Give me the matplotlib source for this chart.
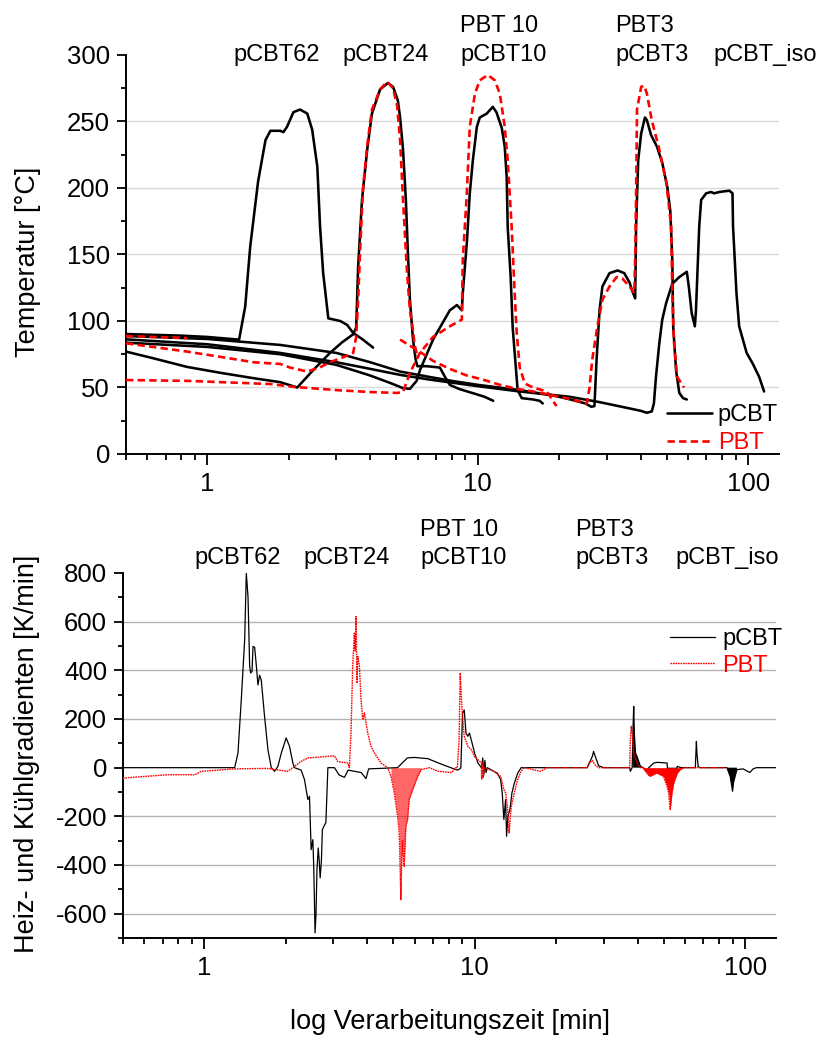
import numpy as np
import matplotlib
matplotlib.use("Agg")
import matplotlib.pyplot as plt
from matplotlib.ticker import LogLocator, MultipleLocator, NullFormatter

plt.rcParams['font.family'] = ['Liberation Sans', 'DejaVu Sans']
plt.rcParams['axes.unicode_minus'] = False

# ---------------- temperature profiles (time in min, temperature in degC) ----------------
t_pcbt62 = [0.5, 0.8, 1.0, 1.31, 1.38, 1.44, 1.54, 1.64, 1.71, 1.86, 1.91, 1.97, 2.08, 2.20,
            2.34, 2.44, 2.55, 2.61, 2.68, 2.80, 3.10, 3.29, 3.46, 3.76, 4.10]
T_pcbt62 = [90.2, 89.0, 88.0, 86.0, 111, 156, 205, 236, 243, 243, 242, 246, 257, 259,
            256, 244, 216, 171, 136, 102, 100, 97, 91, 86, 80]

t_pcbt24 = [0.5, 0.63, 0.84, 1.12, 1.48, 1.86, 2.15, 2.46, 2.84, 3.15, 3.46, 3.55, 3.61, 3.73,
            3.90, 4.06, 4.35, 4.65, 4.86, 5.06, 5.16, 5.29, 5.42, 5.51, 5.61, 5.76, 5.89, 5.98,
            6.48, 7.24, 7.56, 7.88, 8.5, 9.5, 10.6, 11.4]
T_pcbt24 = [77, 72, 65.5, 61, 57, 54, 50, 63, 76, 84, 90, 95, 141, 191,
            229, 256, 274, 279, 276, 266, 253, 229, 191, 153, 116, 86, 71, 66,
            66, 65, 58, 52, 49, 46, 43, 40]

t_pcbt10 = [0.5, 1.0, 1.86, 3.0, 4.0, 4.8, 5.29, 5.61, 5.94, 6.11, 6.83, 7.88, 8.37, 8.73,
            8.80, 9.11, 9.34, 9.59, 9.92, 10.17, 10.8, 11.36, 11.72, 12.27, 12.58, 12.79,
            12.90, 13.23, 13.46, 14.04, 14.54, 16.02, 16.93, 17.39]
T_pcbt10 = [83.7, 80.5, 75, 67, 59, 53, 49.5, 49, 55, 63, 86, 108, 112, 108,
            121, 159, 196, 221, 246, 253, 256, 261, 257, 245, 231, 208,
            171, 133, 95, 48, 42, 41, 40, 38]

t_pcbt3 = [0.5, 1.0, 1.86, 3.0, 4.0, 5.16, 6.6, 8.0, 10.0, 14.3, 19.0, 22.0, 25.0, 26.3,
           27.0, 27.5, 28.2, 28.9, 30.7, 32.9, 34.8, 36.4, 37.2, 38.2, 38.5, 39.2, 40.2,
           41.5, 42.2, 43.7, 46.0, 48.1, 50.2, 51.5, 52.4, 52.8, 54.1, 55.6, 57.4, 59.3]
T_pcbt3 = [88.7, 86.5, 82, 76, 69, 62, 58, 55, 52, 48, 44, 41, 38, 35.5,
           36, 71, 108, 126, 136, 138, 136, 129, 123, 117, 171, 221, 241,
           253, 251, 240, 231, 219, 201, 183, 146, 96, 63, 46, 42, 41]

t_pcbt_iso = [0.5, 1.0, 1.86, 3.0, 4.0, 5.16, 6.6, 10.0, 14.3, 21.9, 28.2, 35.0, 40.0, 42.2,
              44.0, 44.8, 45.6, 46.9, 48.1, 49.8, 52.4, 55.6, 59.3, 60.3, 61.8, 63.5, 64.1,
              65.9, 67.0, 69.9, 72.9, 74.8, 78.2, 85.2, 87.5, 87.9, 90.5, 92.6, 98.7, 103.9,
              109.8, 114.5]
T_pcbt_iso = [86.2, 82.5, 76, 69, 64, 59.5, 56, 51, 47, 43, 39, 35, 32.5, 31,
              32, 38, 58, 83, 101, 114, 128, 133, 137, 126, 106, 96, 108,
              171, 191, 196, 197, 196, 197, 198, 196, 171, 121, 96, 76, 68,
              58, 47]

t_pbt_start = [0.5, 0.84]
T_pbt_start = [88.7, 87.2]

t_pbt24 = [0.5, 0.63, 0.84, 1.12, 1.48, 1.86, 2.02, 2.34, 2.6, 2.84, 3.2, 3.46, 3.55, 3.61,
           3.67, 3.76, 3.90, 4.06, 4.35, 4.62, 4.86, 5.03, 5.16, 5.29, 5.47, 5.61, 5.76,
           5.84, 6.0]
T_pbt24 = [83.2, 80.5, 77, 73, 69, 67.7, 65, 62, 65, 69, 73, 76, 88, 116,
           153, 199, 232, 259, 274, 280, 275, 262, 236, 191, 138, 108, 93,
           82, 72]

t_pbt10 = [0.5, 0.84, 1.71, 2.1, 3.02, 3.99, 5.03, 5.29, 5.61, 6.11, 6.83, 7.88, 8.73, 8.80,
           9.11, 9.34, 9.76, 10.17, 10.89, 11.55, 12.06, 12.58, 12.90, 13.34, 13.69, 13.93,
           14.29, 14.93, 16.02, 18.0, 19.55]
T_pbt10 = [55.6, 55, 52.6, 50.4, 48, 46.6, 45.9, 46.6, 61, 76, 88, 96, 101, 146,
           196, 246, 271, 281, 285, 281, 271, 246, 221, 171, 121, 91,
           65, 53, 50, 47, 36]

t_pbt3 = [5.16, 5.76, 6.3, 6.83, 7.88, 9.11, 10.42, 12.06, 13.93, 16.02, 18.5, 21.3, 23.8,
          25.3, 25.9, 26.5, 27.7, 28.9, 30.7, 32.6, 34.2, 36.4, 37.9, 38.2, 38.5, 38.8,
          40.2, 41.2, 42.2, 44.0, 46.9, 49.8, 51.9, 52.4, 53.2, 54.6, 57.9]
T_pbt3 = [86, 80, 75, 70, 64, 59, 56, 52, 49, 47, 44.5, 42, 39.5,
          38, 50, 71, 96, 116, 126, 133, 132, 126, 121, 146, 196, 259,
          276, 277, 271, 251, 229, 204, 171, 121, 83, 58, 50]

# ---------------- heating / cooling gradients (K/min) ----------------
g_pcbt62_t = [0.5, 1.294, 1.331, 1.369, 1.409, 1.429, 1.450, 1.470, 1.482, 1.50, 1.513, 1.534,
              1.556, 1.578, 1.600, 1.623, 1.669, 1.718, 1.767, 1.818, 1.870, 1.925, 2.006,
              2.064, 2.124, 2.154, 2.279, 2.345, 2.413, 2.447, 2.482, 2.518, 2.538, 2.566,
              2.587, 2.608, 2.636, 2.657, 2.680, 2.709, 2.731, 2.767, 2.814, 2.862, 3.027,
              3.15, 3.295, 3.4, 3.6, 3.8, 3.96, 4.05]
g_pcbt62_v = [0, 0, 60, 279, 525, 799, 700, 420, 389, 395, 498, 495,
              420, 340, 380, 360, 211, 74, 0, -15, 5, 60, 122,
              88, 19, 0, -10, -49, -131, -118, -337, -296, -410, -679,
              -600, -420, -330, -378, -453, -380, -255, -241, -225, 0, 0,
              -30, -40, -10, -15, -20, -45, -5]

g_pcbt10_t = [5.18, 5.63, 5.97, 6.70, 7.70, 8.15, 8.62, 8.80, 8.88, 9.01, 9.14, 9.28, 9.42,
              9.56, 9.70, 9.84, 9.98, 10.27, 10.58, 10.7, 10.8, 10.9, 11.0, 11.12, 11.76,
              12.10, 12.46, 12.63, 12.81, 13.00, 13.11, 13.26, 13.49, 13.72, 14.01, 14.42,
              14.84]
g_pcbt10_v = [0, 40, 42, 37, 10, 0, -10, -5, 0, 224, 237, 142, 129,
              142, 115, 88, 60, 19, 0, 40, -30, 30, -20, 0, -15,
              -22, -49, -104, -213, -131, -282, -200, -172, -104, -63, -22,
              0]

g_pcbt3_t = [26.05, 27.2, 27.5, 27.9, 28.7, 29.9, 37.4, 37.6, 38.2, 38.5, 38.7, 38.9, 39.3,
             39.8, 40.4, 41.0, 42.0, 43.0, 44.0, 45.9, 47.3, 51.4, 52.1, 52.8, 53.4, 54.4,
             56.1, 58.0]
g_pcbt3_v = [0, 46, 67, 46, 8, 0, 0, -15, 0, 170, 252, 142, 60,
             46, 26, 5, 0, -15, 0, 19, 22, 19, -60, -104, -80, -40,
             5, 0]

g_pcbt_iso_t = [65.4, 66.0, 66.3, 67.0, 68.0, 85.6, 88.0, 89.8, 90.6, 93.2, 98.3, 104.0,
                107.0, 110.0, 130.0]
g_pcbt_iso_v = [0, 108, 60, 5, 0, 0, -36, -97, -60, -8, -5, -20,
                -5, 0, 0]

g_pbt24_t = [0.5, 0.508, 0.735, 0.921, 0.975, 1.294, 1.7, 2.03, 2.093, 2.279, 2.413, 2.700,
             3.027, 3.113, 3.391, 3.436, 3.485, 3.535, 3.586, 3.610, 3.637, 3.668, 3.689,
             3.742, 3.796, 3.850, 3.906, 4.018, 4.134, 4.254, 4.498, 4.762, 4.899, 5.039,
             5.182, 5.255, 5.33, 5.36, 5.405, 5.48, 5.56, 5.64, 5.72, 5.89, 6.15, 6.33, 6.8,
             7.3, 8.2, 8.5]
g_pbt24_v = [-45, -42, -29, -29, -15, -5, -3, -15, -5, 26, 40, 44,
             49, 25, 19, 0, 142, 416, 553, 480, 621, 348, 457,
             420, 279, 197, 225, 142, 88, 60, 19, 0, -36, -104,
             -200, -268, -542, -405, -300, -405, -241, -213, -131, -90, -36, -8, 0,
             -15, -20, 0]

g_pbt10_t = [8.62, 8.75, 8.83, 8.93, 9.01, 9.14, 9.42, 9.70, 9.98, 10.58, 10.6, 10.7, 10.75,
             10.82, 11.76, 12.46, 12.81, 13.0, 13.2, 13.4, 13.5, 13.65, 14.0, 14.4, 14.84,
             15.2, 17.5, 18.5, 26.05, 26.6, 27.2, 27.9, 28.7]
g_pbt10_v = [0, 115, 389, 279, 211, 129, 88, 74, 46, 19, -49, 19, -40,
             0, -15, -36, -90, -104, -159, -268, -213, -159, -104, -49, -15,
             0, -15, 0, 0, 20, 30, 10, 0]

g_pbt3_t = [37.4, 37.6, 37.9, 38.2, 38.7, 39.8, 41.0, 42.0, 43.2, 44.4, 47.0, 49.9, 51.4,
            52.1, 52.8, 53.6, 54.4, 56.1, 57.5, 59.2, 84.0]
g_pbt3_v = [0, 115, 170, 142, 60, 20, 0, 0, -22, -36, -22, -36, -77,
            -104, -172, -104, -63, -22, -8, 0, 0]

# ---------------- figure ----------------
W, H = 820, 1050
fig = plt.figure(figsize=(W / 100, H / 100), dpi=100)


def box(x0, y0, x1, y1):
    return [x0 / W, 1 - y1 / H, (x1 - x0) / W, (y1 - y0) / H]


ax1 = fig.add_axes(box(126, 55, 779, 454))
ax2 = fig.add_axes(box(123, 573, 776, 938))

TICK_FS = 18.5
LABEL_FS = 19.5
NOTE_FS = 17

for ax in (ax1, ax2):
    ax.set_xscale('log')
    ax.set_xlim(0.5, 130)
    for side in ('top', 'right'):
        ax.spines[side].set_visible(False)
    for side in ('left', 'bottom'):
        ax.spines[side].set_linewidth(1.4)
    ax.xaxis.set_major_locator(LogLocator(base=10, subs=(1.0,)))
    ax.xaxis.set_minor_locator(LogLocator(base=10, subs=np.arange(2, 10) * 1.0))
    ax.xaxis.set_minor_formatter(NullFormatter())
    ax.set_xticks([1, 10, 100])
    ax.set_xticklabels(['1', '10', '100'])
    ax.tick_params(axis='both', which='major', direction='out', width=1.3,
                   labelsize=TICK_FS, pad=5)
    ax.tick_params(axis='x', which='major', length=8)
    ax.tick_params(axis='x', which='minor', direction='out', width=1.3, length=4.5)
    ax.tick_params(axis='y', which='major', length=6.5)
    ax.tick_params(axis='y', which='minor', direction='out', width=1.3, length=3.8)
    ax.set_axisbelow(True)

# ---- upper panel: temperature ----
ax1.set_ylim(0, 300)
ax1.yaxis.set_major_locator(MultipleLocator(50))
ax1.yaxis.set_minor_locator(MultipleLocator(25))
for g in range(50, 300, 50):
    ax1.axhline(g, color='#d9d9d9', lw=1.0, zorder=0)

blk = dict(color='black', lw=1.85, solid_joinstyle='round', solid_capstyle='round', zorder=3)
red = dict(color='#ff0000', lw=1.9, linestyle=(0, (2.8, 1.6)), zorder=4)

l_pcbt, = ax1.plot(t_pcbt62, T_pcbt62, label='pCBT', **blk)
ax1.plot(t_pcbt24, T_pcbt24, **blk)
ax1.plot(t_pcbt10, T_pcbt10, **blk)
ax1.plot(t_pcbt3, T_pcbt3, **blk)
ax1.plot(t_pcbt_iso, T_pcbt_iso, **blk)

l_pbt, = ax1.plot(t_pbt24, T_pbt24, label='PBT', **red)
ax1.plot(t_pbt10, T_pbt10, **red)
ax1.plot(t_pbt3, T_pbt3, **red)
ax1.plot(t_pbt_start, T_pbt_start, **red)

leg1 = ax1.legend(handles=[l_pcbt, l_pbt], loc='upper left',
                  bbox_to_anchor=((667 - 126) / 653, (454 - 404) / 399),
                  frameon=False, fontsize=NOTE_FS, handlelength=1.9,
                  handletextpad=0.25, labelspacing=0.25, borderpad=0, borderaxespad=0)
for txt, c in zip(leg1.get_texts(), ['black', '#ff0000']):
    txt.set_color(c)

# ---- lower panel: gradients ----
ax2.set_ylim(-700, 800)
ax2.yaxis.set_major_locator(MultipleLocator(200))
ax2.yaxis.set_minor_locator(MultipleLocator(100))
ax2.set_yticks(np.arange(-600, 801, 200))
for g in (-600, -400, -200, 200, 400, 600):
    ax2.axhline(g, color='#b3b3b3', lw=1.0, zorder=0)

gb_t = np.concatenate([g_pcbt62_t, g_pcbt10_t, g_pcbt3_t, g_pcbt_iso_t])
gb_v = np.concatenate([g_pcbt62_v, g_pcbt10_v, g_pcbt3_v, g_pcbt_iso_v])
gr_t = np.concatenate([g_pbt24_t, g_pbt10_t, g_pbt3_t])
gr_v = np.concatenate([g_pbt24_v, g_pbt10_v, g_pbt3_v])

g_pcbt, = ax2.plot(gb_t, gb_v, color='black', lw=0.9, label='pCBT', zorder=3)
g_pbt, = ax2.plot(gr_t, gr_v, color='#ff0000', lw=1.0, linestyle=(0, (1.2, 0.6)),
                  label='PBT', zorder=4)

# densely oscillating stretches appear as solid areas
ax2.fill_between(gb_t, gb_v, 0, where=((gb_t >= 38.4) & (gb_t <= 42)) |
                 ((gb_t >= 51) & (gb_t <= 56.5)) | ((gb_t >= 85) & (gb_t <= 95)),
                 color='black', lw=0, zorder=3)
ax2.fill_between(gr_t, gr_v, 0, where=(gr_t >= 42) & (gr_t <= 60),
                 color='#ff0000', lw=0, zorder=4)
ax2.fill_between(gr_t, gr_v, 0, where=(gr_t >= 4.85) & (gr_t <= 6.4),
                 color='#ff0000', alpha=0.6, lw=0, zorder=4)

leg2 = ax2.legend(handles=[g_pcbt, g_pbt], loc='upper left',
                  bbox_to_anchor=((670 - 123) / 653, (938 - 628) / 365),
                  frameon=False, fontsize=NOTE_FS, handlelength=1.9,
                  handletextpad=0.3, labelspacing=0.2, borderpad=0, borderaxespad=0)
for txt, c in zip(leg2.get_texts(), ['black', '#ff0000']):
    txt.set_color(c)

# ---- axis titles ----
fig.text(28 / W, 1 - 262 / H, 'Temperatur [°C]', rotation=90, ha='center', va='center',
         fontsize=LABEL_FS)
fig.text(27 / W, 1 - 754 / H, 'Heiz- und Kühlgradienten [K/min]', rotation=90,
         ha='center', va='center', fontsize=LABEL_FS)
fig.text(450 / W, 1 - 1022 / H, 'log Verarbeitungszeit [min]', ha='center', va='center',
         fontsize=LABEL_FS)

# ---- run labels ----
def note(x, y, s, ha='left'):
    fig.text(x / W, 1 - y / H, s, ha=ha, va='baseline', fontsize=NOTE_FS)


note(277, 61, 'pCBT62', 'center')
note(386, 61, 'pCBT24', 'center')
note(460, 32, 'PBT 10')
note(460, 61, 'pCBT10')
note(615, 32, 'PBT3')
note(615, 61, 'pCBT3')
note(713, 61, 'pCBT_iso')

note(238, 564, 'pCBT62', 'center')
note(347, 564, 'pCBT24', 'center')
note(420, 536, 'PBT 10')
note(420, 564, 'pCBT10')
note(575, 536, 'PBT3')
note(575, 564, 'pCBT3')
note(675, 564, 'pCBT_iso')

fig.savefig('out.png', dpi=100)
